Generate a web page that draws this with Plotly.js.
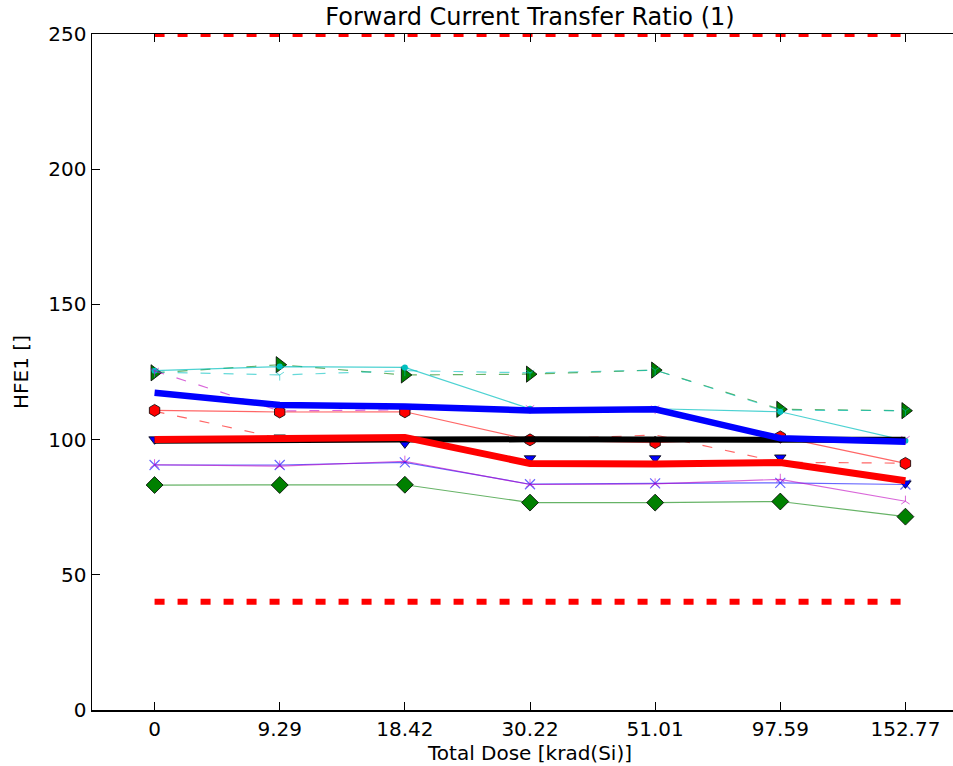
<!DOCTYPE html>
<html>
<head>
<meta charset="utf-8">
<script src="https://cdn.plot.ly/plotly-3.0.1.min.js"></script>
<style>
  html, body { margin: 0; padding: 0; background: #ffffff; overflow: hidden; }
  #chart { width: 1000px; height: 766px; }
</style>
</head>
<body>
<div id="chart"></div>
<script>
// Total dose steps (krad(Si)) used as categorical x positions
const doses = ["0", "9.29", "18.42", "30.22", "51.01", "97.59", "152.77"];

// Individual devices (thin lines)
const devDiamond   = [83.2, 83.2, 83.3, 76.7, 76.7, 77.1, 71.5];
const devCross     = [90.6, 90.6, 91.6, 83.5, 83.8, 84.0, 83.4];
const devTriUp     = [90.7, 90.2, 92.0, 83.4, 83.6, 85.3, 77.2];
const devHexagon   = [110.8, 110.2, 110.3, 99.9, 98.9, 101.0, 91.2];
const devRedDash   = [110.5, 100.5, 100.2, 100.0, 101.7, 91.6, 91.3];
const devMagDash   = [125.4, 110.6, 111.0, 111.6, 111.5, 100.6, 100.2];
const devCyanSolid = [125.5, 127.0, 126.7, 111.4, 111.4, 110.3, 99.6];
const devCyanDash  = [125.0, 123.9, 125.5, 124.7, 125.7, 110.9, 110.7];
const devGreenDash = [124.7, 127.7, 123.9, 124.2, 125.7, 111.2, 110.7];
const devTriDown   = [100.1, 100.8, 98.6, 93.1, 93.1, 93.4, 83.8];

// Group curves (thick lines)
const groupBlack = [99.6, 100.0, 100.0, 100.1, 100.1, 100.0, 99.9];
const groupBlue  = [117.3, 112.8, 112.2, 110.8, 111.2, 100.5, 99.2];
const groupRed   = [100.0, 100.5, 100.8, 91.2, 91.0, 91.5, 84.8];

// Specification limits
const limitLow  = [40, 40];
const limitHigh = [250, 250];
const limitX = [doses[0], doses[doses.length - 1]];

const FONT = "DejaVu Sans, sans-serif";
const DASH = "10px,13px";

function thin(y, color, opts) {
  opts = opts || {};
  const tr = {
    x: doses, y: y, type: "scatter",
    mode: opts.symbol ? "lines+markers" : "lines",
    line: { color: color, width: 1.2, dash: opts.dash || "solid" },
    hoverinfo: "skip", showlegend: false
  };
  if (opts.symbol) {
    tr.marker = {
      symbol: opts.symbol, size: opts.size || 10,
      color: opts.fill || color,
      line: { color: opts.edge || "#000000", width: opts.edgeWidth == null ? 0.8 : opts.edgeWidth }
    };
  }
  return tr;
}

function thick(y, color, w) {
  return {
    x: doses, y: y, type: "scatter", mode: "lines",
    line: { color: color, width: w },
    hoverinfo: "skip", showlegend: false
  };
}

function limit(y) {
  return {
    x: limitX, y: y, type: "scatter", mode: "lines",
    line: { color: "#ff0000", width: 6, dash: DASH },
    hoverinfo: "skip", showlegend: false
  };
}

const traces = [
  thin(devGreenDash, "rgba(0,128,0,0.6)", { dash: DASH, symbol: "triangle-right", size: 14, fill: "#008000" }),
  thin(devCyanDash, "rgba(0,191,191,0.6)", { dash: DASH, symbol: "y-down-open", size: 7, edge: "rgba(0,191,191,0.9)", edgeWidth: 1 }),
  thin(devCyanSolid, "rgba(0,191,191,0.7)", { symbol: "circle", size: 6, fill: "#00bfbf", edge: "#00bfbf", edgeWidth: 0 }),
  thin(devMagDash, "rgba(191,0,191,0.6)", { dash: DASH, symbol: "y-down-open", size: 7, edge: "rgba(191,0,191,0.9)", edgeWidth: 1 }),
  thin(devRedDash, "rgba(255,0,0,0.6)", { dash: DASH }),
  thin(devHexagon, "rgba(255,0,0,0.6)", { symbol: "hexagon", size: 12, fill: "#ff0000" }),
  {
    x: doses, y: devTriDown, type: "scatter", mode: "markers",
    marker: { symbol: "triangle-down", size: 10, color: "#0000ff", line: { color: "#000000", width: 0.8 } },
    hoverinfo: "skip", showlegend: false
  },
  thin(devCross, "rgba(0,0,255,0.6)", { symbol: "x-thin-open", size: 10, edge: "rgba(60,60,255,0.8)", edgeWidth: 1.2 }),
  thin(devTriUp, "rgba(191,0,191,0.6)", { symbol: "y-up-open", size: 7, edge: "rgba(191,0,191,0.9)", edgeWidth: 1 }),
  thin(devDiamond, "rgba(0,128,0,0.6)", { symbol: "diamond", size: 13, fill: "#008000" }),
  limit(limitHigh),
  limit(limitLow),
  thick(groupBlack, "#000000", 6),
  thick(groupBlue, "#0000ff", 6.5),
  thick(groupRed, "#ff0000", 7)
];

const axisCommon = {
  showline: true, linecolor: "#000000", linewidth: 1.5,
  mirror: "ticks", ticks: "inside", ticklen: 8, tickwidth: 1, tickcolor: "#000000",
  showgrid: false, zeroline: false,
  tickfont: { family: FONT, size: 20, color: "#000000" }
};

const layout = {
  width: 1000, height: 766,
  paper_bgcolor: "#ffffff", plot_bgcolor: "#ffffff",
  margin: { l: 92, r: 32, t: 34, b: 56 },
  showlegend: false,
  title: {
    text: "Forward Current Transfer Ratio (1)",
    font: { family: FONT, size: 24, color: "#000000" },
    x: 0.5, xref: "paper", xanchor: "center",
    y: 1 - 17 / 766, yref: "container", yanchor: "middle"
  },
  xaxis: Object.assign({}, axisCommon, {
    type: "category", range: [-0.5, 6.5],
    tickvals: doses, ticktext: doses,
    title: { text: "Total Dose [krad(Si)]", font: { family: FONT, size: 20, color: "#000000" }, standoff: 2 },
    automargin: false
  }),
  yaxis: Object.assign({}, axisCommon, {
    range: [0, 250], tickvals: [0, 50, 100, 150, 200, 250],
    title: { text: "HFE1 []", font: { family: FONT, size: 20, color: "#000000" }, standoff: 14 },
    automargin: false
  })
};

Plotly.newPlot("chart", traces, layout, { staticPlot: true, displayModeBar: false });
</script>
</body>
</html>
